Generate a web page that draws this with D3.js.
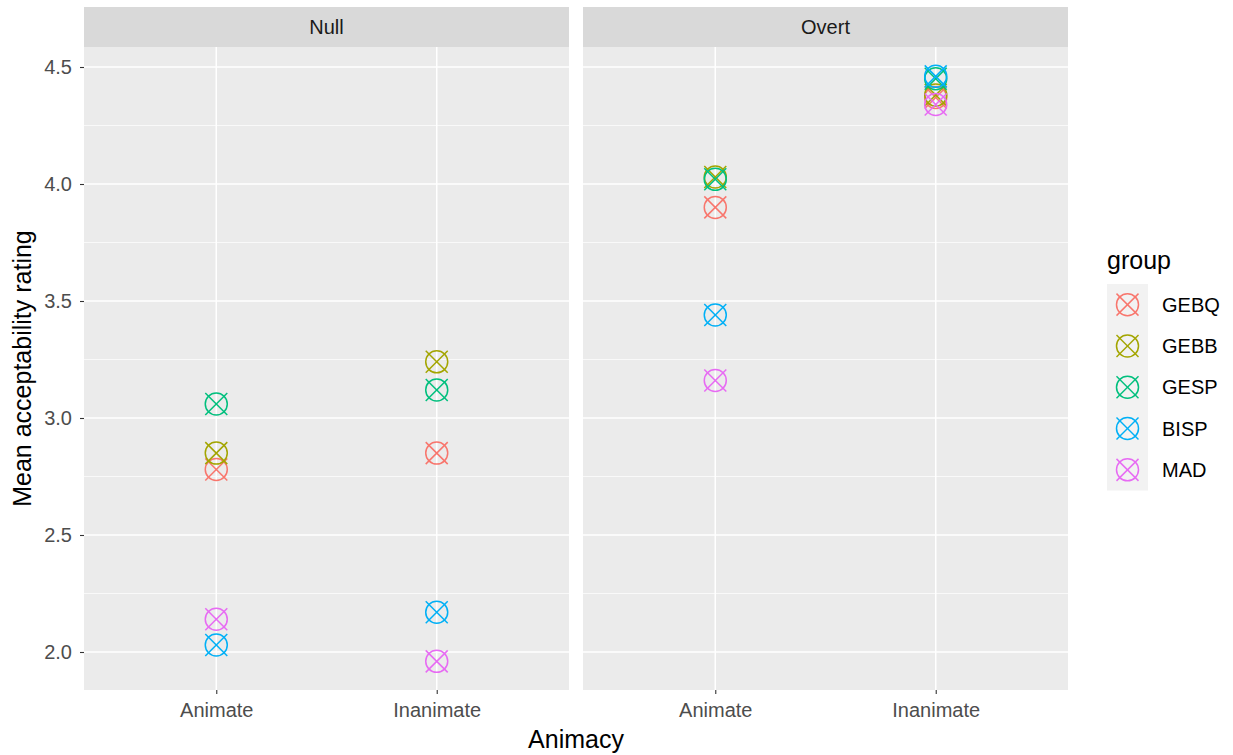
<!DOCTYPE html>
<html>
<head>
<meta charset="utf-8">
<script src="https://cdn.jsdelivr.net/npm/d3@7"></script>
<style>
  body { margin: 0; background: #fff; }
  text { font-family: "Liberation Sans", Arial, sans-serif; }
</style>
</head>
<body>
<div id="chart"></div>
<script>
// Data
const panels = ['Null', 'Overt'];
const animacy = ['Animate', 'Inanimate'];
const groups = ['GEBQ', 'GEBB', 'GESP', 'BISP', 'MAD'];
const colors = ['#F8766D', '#A3A500', '#00BF7D', '#00B0F6', '#E76BF3'];
// values per group: [Null-Animate, Null-Inanimate, Overt-Animate, Overt-Inanimate]
const GEBQ = [2.78, 2.85, 3.90, 4.37];
const GEBB = [2.85, 3.24, 4.03, 4.38];
const GESP = [3.06, 3.12, 4.02, 4.45];
const BISP = [2.03, 2.17, 3.44, 4.46];
const MAD  = [2.14, 1.96, 3.16, 4.34];
const yTicks = [2.0, 2.5, 3.0, 3.5, 4.0, 4.5];
const yMinor = [2.25, 2.75, 3.25, 3.75, 4.25];

const seriesValues = [GEBQ, GEBB, GESP, BISP, MAD];
const points = [];
groups.forEach((g, gi) => {
    seriesValues[gi].forEach((v, i) => {
        points.push({ group: g, panel: panels[Math.floor(i / 2)], animacy: animacy[i % 2], value: v });
    });
});

// Layout
const width = 1233, height = 755;
const panelTop = 47, panelBottom = 690;
const stripTop = 7;
const panelLefts = [84, 583];
const panelWidth = 485;
const tickFont = 20, titleFont = 25;

const svg = d3.select('#chart').append('svg')
    .attr('width', width)
    .attr('height', height);

const y = d3.scaleLinear()
    .domain([1.8376, 4.5855])
    .range([panelBottom, panelTop]);

const x = d3.scalePoint()
    .domain(animacy)
    .range([0, panelWidth])
    .padding(0.6);

const color = d3.scaleOrdinal().domain(groups).range(colors);

const r = 11;
function drawMarker(sel, cx, cy, col) {
    const g = sel.append('g')
        .attr('transform', `translate(${cx},${cy})`)
        .attr('stroke', col)
        .attr('stroke-width', 1.5)
        .attr('fill', 'none');
    g.append('circle').attr('r', r);
    g.append('line').attr('x1', -r).attr('y1', -r).attr('x2', r).attr('y2', r);
    g.append('line').attr('x1', -r).attr('y1', r).attr('x2', r).attr('y2', -r);
}

panels.forEach((p, pi) => {
    const g = svg.append('g').attr('transform', `translate(${panelLefts[pi]},0)`);

    // Strip
    g.append('rect')
        .attr('x', 0).attr('y', stripTop)
        .attr('width', panelWidth).attr('height', panelTop - stripTop)
        .attr('fill', '#D9D9D9');
    g.append('text')
        .attr('x', panelWidth / 2).attr('y', (stripTop + panelTop) / 2)
        .attr('dy', '0.36em')
        .attr('text-anchor', 'middle')
        .attr('font-size', tickFont)
        .attr('fill', '#1A1A1A')
        .text(p);

    // Panel background
    g.append('rect')
        .attr('x', 0).attr('y', panelTop)
        .attr('width', panelWidth).attr('height', panelBottom - panelTop)
        .attr('fill', '#EBEBEB');

    // Grid lines
    g.selectAll('.minor').data(yMinor).join('line')
        .attr('x1', 0).attr('x2', panelWidth)
        .attr('y1', d => y(d)).attr('y2', d => y(d))
        .attr('stroke', '#fff').attr('stroke-width', 0.7);
    g.selectAll('.major').data(yTicks).join('line')
        .attr('x1', 0).attr('x2', panelWidth)
        .attr('y1', d => y(d)).attr('y2', d => y(d))
        .attr('stroke', '#fff').attr('stroke-width', 1.5);
    g.selectAll('.vmajor').data(animacy).join('line')
        .attr('x1', d => x(d)).attr('x2', d => x(d))
        .attr('y1', panelTop).attr('y2', panelBottom)
        .attr('stroke', '#fff').attr('stroke-width', 1.5);

    // Points
    points.filter(d => d.panel === p).forEach(d => {
        drawMarker(g, x(d.animacy), y(d.value), color(d.group));
    });

    // X axis
    const xAxis = g.append('g')
        .attr('transform', `translate(0,${panelBottom})`)
        .call(d3.axisBottom(x).tickSize(4).tickPadding(9));
    xAxis.select('.domain').remove();
    xAxis.selectAll('line').attr('stroke', '#333').attr('stroke-width', 1.1);
    xAxis.selectAll('text').attr('font-size', tickFont).attr('fill', '#4D4D4D')
        .style('font-family', '"Liberation Sans", Arial, sans-serif');

    // Y axis (left panel only)
    if (pi === 0) {
        const yAxis = g.append('g')
            .call(d3.axisLeft(y).tickValues(yTicks).tickFormat(d3.format('.1f')).tickSize(4).tickPadding(8));
        yAxis.select('.domain').remove();
        yAxis.selectAll('line').attr('stroke', '#333').attr('stroke-width', 1.1);
        yAxis.selectAll('text').attr('font-size', tickFont).attr('fill', '#4D4D4D')
            .style('font-family', '"Liberation Sans", Arial, sans-serif');
    }
});

// Axis titles
svg.append('text')
    .attr('x', (panelLefts[0] + panelLefts[1] + panelWidth) / 2)
    .attr('y', 748)
    .attr('text-anchor', 'middle')
    .attr('font-size', titleFont)
    .attr('fill', '#000')
    .text('Animacy');

svg.append('text')
    .attr('transform', `translate(31,${(panelTop + panelBottom) / 2}) rotate(-90)`)
    .attr('text-anchor', 'middle')
    .attr('font-size', titleFont)
    .attr('fill', '#000')
    .text('Mean acceptability rating');

// Legend
const legend = svg.append('g').attr('transform', 'translate(1107,0)');
legend.append('text')
    .attr('x', 0).attr('y', 269)
    .attr('font-size', titleFont)
    .attr('fill', '#000')
    .text('group');
const keyH = 41.3, keyTop = 284;
legend.append('rect')
    .attr('x', 0).attr('y', keyTop)
    .attr('width', 41).attr('height', keyH * groups.length)
    .attr('fill', '#F2F2F2');
groups.forEach((gname, i) => {
    const cy = keyTop + keyH * i + keyH / 2;
    drawMarker(legend, 20.5, cy, color(gname));
    legend.append('text')
        .attr('x', 55).attr('y', cy)
        .attr('dy', '0.36em')
        .attr('font-size', tickFont)
        .attr('fill', '#000')
        .text(gname);
});
</script>
</body>
</html>
